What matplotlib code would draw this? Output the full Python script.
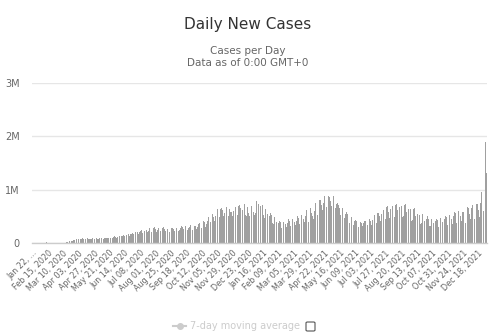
import datetime
import matplotlib
matplotlib.use("Agg")
import matplotlib.pyplot as plt
from matplotlib.lines import Line2D
from matplotlib.patches import FancyBboxPatch

# Daily new cases (thousands), one row per week (Wed..Tue), from Jan 22, 2020
cases_2020 = [
    [0, 0, 0, 1, 1, 1, 2], [1, 2, 2, 2, 3, 3, 4], [4, 3, 3, 3, 3, 3, 2],
    [2, 15, 5, 3, 2, 2, 2], [1, 1, 1, 1, 1, 1, 1], [1, 1, 2, 2, 2, 2, 2],
    [2, 3, 4, 4, 4, 4, 5], [8, 8, 11, 11, 12, 14, 17], [18, 28, 31, 32, 34, 40, 42],
    [48, 61, 64, 63, 59, 58, 70], [76, 78, 82, 84, 72, 68, 74], [84, 86, 92, 83, 72, 70, 70],
    [78, 94, 88, 84, 76, 73, 75], [80, 84, 104, 87, 77, 74, 76], [83, 88, 96, 90, 76, 78, 83],
    [92, 95, 95, 88, 77, 76, 83], [89, 96, 98, 102, 88, 88, 92], [104, 107, 106, 104, 98, 86, 92],
    [104, 120, 126, 124, 108, 104, 114], [122, 130, 129, 134, 110, 104, 126],
    [138, 137, 148, 140, 128, 114, 141], [145, 181, 143, 176, 130, 141, 164],
    [168, 178, 194, 190, 164, 156, 170], [210, 209, 219, 201, 183, 170, 210],
    [215, 231, 237, 227, 196, 188, 210], [230, 250, 258, 245, 215, 212, 230],
    [280, 287, 286, 263, 211, 218, 248], [290, 295, 292, 264, 220, 216, 252],
    [279, 286, 290, 266, 228, 220, 256], [290, 292, 297, 262, 215, 225, 262],
    [278, 273, 276, 255, 213, 215, 248], [278, 288, 285, 264, 232, 225, 262],
    [283, 285, 315, 274, 234, 230, 236], [285, 300, 318, 305, 250, 255, 282],
    [300, 315, 325, 303, 244, 247, 285], [298, 330, 330, 305, 255, 245, 295],
    [330, 325, 345, 315, 263, 260, 310], [350, 365, 370, 345, 285, 280, 320],
    [380, 410, 415, 390, 305, 310, 360], [420, 450, 480, 450, 375, 400, 460],
    [510, 550, 540, 490, 420, 420, 500], [585, 620, 630, 550, 470, 480, 545],
    [630, 650, 665, 620, 510, 500, 570], [640, 670, 680, 620, 500, 500, 580],
    [630, 580, 620, 590, 510, 500, 600], [660, 690, 680, 640, 530, 520, 610],
    [690, 710, 720, 650, 530, 510, 620], [730, 760, 730, 640, 520, 510, 600],
    [670, 570, 430, 510, 500, 570, 700],
]
cases_2021 = [
    [760, 620, 580, 600, 530, 560, 720], [780, 840, 810, 730, 590, 560, 690],
    [730, 750, 720, 650, 520, 470, 590], [630, 660, 610, 550, 450, 400, 510],
    [560, 560, 530, 470, 380, 350, 440], [480, 470, 440, 400, 330, 300, 380],
    [420, 410, 400, 350, 290, 290, 360], [400, 400, 390, 360, 300, 310, 380],
    [440, 450, 420, 390, 320, 310, 380], [450, 460, 430, 400, 330, 330, 420],
    [480, 500, 470, 420, 350, 370, 460], [530, 560, 520, 460, 380, 400, 500],
    [590, 620, 560, 480, 400, 420, 530], [660, 650, 570, 500, 430, 460, 600],
    [730, 750, 680, 620, 520, 560, 690], [810, 820, 800, 720, 600, 620, 760],
    [880, 880, 870, 790, 670, 680, 800], [880, 890, 860, 790, 680, 690, 790],
    [860, 880, 820, 750, 650, 630, 740], [760, 750, 720, 650, 560, 530, 630],
    [680, 660, 630, 560, 470, 450, 540], [580, 560, 540, 480, 400, 380, 470],
    [500, 480, 470, 420, 340, 330, 410], [440, 430, 420, 380, 310, 310, 390],
    [420, 400, 400, 370, 320, 320, 380], [420, 410, 420, 380, 320, 330, 410],
    [440, 460, 460, 420, 340, 340, 440], [500, 530, 520, 460, 370, 380, 490],
    [560, 570, 570, 510, 410, 430, 540], [600, 620, 620, 560, 440, 460, 600],
    [680, 690, 660, 590, 470, 480, 630], [700, 720, 690, 610, 490, 490, 660],
    [720, 730, 700, 620, 490, 510, 680], [720, 720, 690, 610, 480, 500, 650],
    [720, 730, 680, 590, 450, 480, 640], [680, 690, 640, 540, 420, 430, 580],
    [630, 650, 590, 510, 390, 400, 540], [580, 590, 530, 450, 360, 380, 500],
    [540, 530, 480, 410, 330, 350, 450], [500, 500, 450, 390, 320, 320, 430],
    [460, 460, 430, 370, 300, 300, 420], [450, 450, 430, 370, 300, 300, 420],
    [470, 480, 450, 390, 310, 320, 450], [500, 510, 480, 410, 330, 340, 470],
    [530, 540, 520, 450, 350, 360, 510], [570, 590, 560, 480, 380, 400, 560],
    [600, 620, 590, 500, 390, 410, 580], [640, 580, 580, 480, 380, 420, 620],
    [680, 690, 650, 550, 420, 450, 660], [700, 720, 680, 590, 450, 460, 680],
    [730, 760, 740, 620, 480, 490, 760], [1000, 950, 800, 550, 600, 1100, 1620],
    [1900, 1600, 1310],
]

cases = [v * 1000 for week in cases_2020 + cases_2021 for v in week]
start = datetime.date(2020, 1, 22)
dates = [start + datetime.timedelta(days=i) for i in range(len(cases))]

y_ticks = [0, 1000000, 2000000, 3000000]
y_labels = ["0", "1M", "2M", "3M"]

plt.rcParams['font.family'] = ['DejaVu Sans']

fig = plt.figure(figsize=(5, 3.33), dpi=100)
ax = fig.add_axes([0.064, 0.27, 0.91, 0.481])

x = list(range(len(cases)))
ax.bar(x, cases, width=0.75, color="#a0a0a0", linewidth=0, zorder=2)

ax.set_xlim(-0.5, len(cases) - 0.5)
ax.set_ylim(0, 3000000)
ax.set_yticks(y_ticks)
ax.set_yticklabels(y_labels)
ax.yaxis.grid(True, color="#e6e6e6", linewidth=1, zorder=0)
ax.tick_params(axis='y', length=0, pad=9, labelsize=7, labelcolor="#666666")

tick_idx = list(range(0, len(cases), 24))
tick_lab = []
for i in tick_idx:
    tick_lab.append(dates[i].strftime("%b %d, %Y"))
tick_lab[0] = "Jan 22, ..."
ax.set_xticks(tick_idx)
ax.set_xticklabels(tick_lab, rotation=45, ha="right", va="top", rotation_mode="anchor")
ax.tick_params(axis='x', length=0, pad=4, labelsize=5.8, labelcolor="#666666")

for s in ["top", "right", "left"]:
    ax.spines[s].set_visible(False)
ax.spines["bottom"].set_color("#cccccc")
ax.spines["bottom"].set_linewidth(1)

fig.text(0.496, 0.925, "Daily New Cases", ha="center", va="center", fontsize=11, color="#333333")
fig.text(0.496, 0.847, "Cases per Day", ha="center", va="center", fontsize=7.5, color="#666666")
fig.text(0.496, 0.81, "Data as of 0:00 GMT+0", ha="center", va="center", fontsize=7.5, color="#666666")

# legend (series hidden, so greyed out) and checkbox
fig.add_artist(Line2D([0.346, 0.372], [0.021, 0.021], color="#cccccc", linewidth=1.5,
                      transform=fig.transFigure))
fig.add_artist(Line2D([0.359], [0.021], color="#cccccc", marker="o", markersize=4,
                      linestyle="none", transform=fig.transFigure))
fig.text(0.38, 0.021, "7-day moving average", ha="left", va="center", fontsize=7, color="#cccccc")
fig.add_artist(FancyBboxPatch((0.612, 0.006), 0.018, 0.027, boxstyle="round,pad=0,rounding_size=0.003",
                              facecolor="white", edgecolor="#555555", linewidth=0.8,
                              transform=fig.transFigure))

fig.savefig("out.png", dpi=100)
